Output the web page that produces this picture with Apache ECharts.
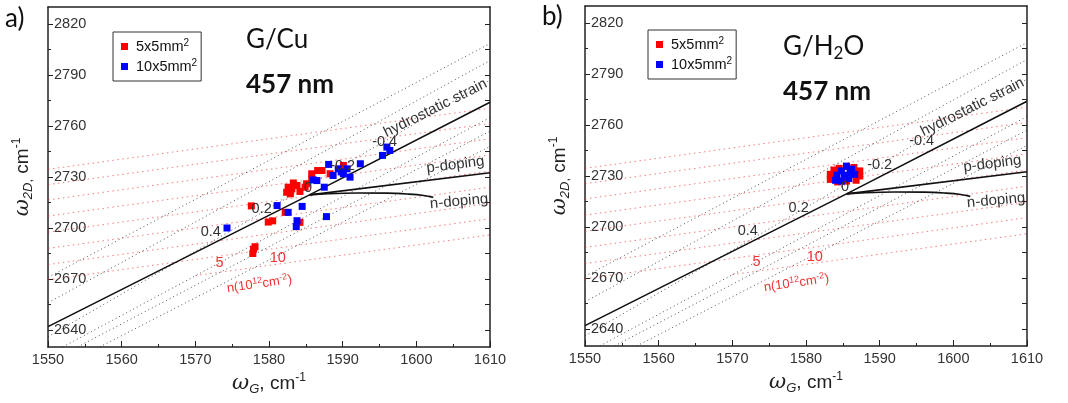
<!DOCTYPE html>
<html><head><meta charset="utf-8">
<script src="https://cdn.jsdelivr.net/npm/echarts@6/dist/echarts.min.js"></script>
<style>html,body{margin:0;padding:0;background:#fff}#c{width:1068px;height:403px}</style>
</head><body><div id="c"></div>
<script>
// ---------- data ----------
const xRange = [1550, 1610];
const yRange = [2630, 2830];
const yMajorTicks = [2640, 2670, 2700, 2730, 2760, 2790, 2820];
const yMinorTicks = [2655, 2685, 2715, 2745, 2775, 2805];
const yRightTicks = [2640, 2655, 2670, 2685, 2700, 2715, 2730, 2745, 2760, 2775, 2790, 2805, 2820];

const strainLine = [[1550, 2642], [1585.5, 2719.5], [1610, 2774]];
const pDopingLine = [[1585.5, 2719.5], [1610, 2732.5]];
const nDopingLine = [[1585.5, 2719.5], [1588, 2720.2], [1592, 2720.6], [1596, 2720.5], [1599, 2719.9], [1601, 2719.1], [1602.3, 2718]];

// black dotted iso-lines: [start, end]
const blackDotted = [
  [[1550, 2671], [1610, 2808.5]],
  [[1550, 2656], [1610, 2798.5]],
  [[1550, 2636], [1610, 2787]],
  [[1552, 2630], [1610, 2765]],
  [[1554, 2630], [1610, 2757]],
  [[1557, 2630], [1610, 2748]]
];
// red dotted iso-lines: [start, end]
const redDotted = [
  [[1550, 2734.5], [1610, 2770.5]],
  [[1550, 2725.5], [1610, 2761.5]],
  [[1550, 2716.5], [1610, 2752.5]],
  [[1550, 2707], [1610, 2743]],
  [[1550, 2697.5], [1610, 2733.5]],
  [[1550, 2688], [1610, 2724]],
  [[1550, 2678.5], [1610, 2714.5]],
  [[1550, 2669.5], [1610, 2705.5]],
  [[1570, 2672], [1610, 2696]]
];

// G/Cu
const cuSmall = [[1577.6,2713],[1577.9,2687.5],[1577.8,2685],[1578.1,2689],[1579.9,2703.5],[1580.5,2704.2],[1582.2,2709.2],
  [1582.4,2721],[1582.6,2724],[1583.1,2723],[1583.8,2725],[1584.2,2721.5],[1585.1,2726],[1585.8,2728.9],[1585.8,2731.9],
  [1587.2,2733.8],[1588.3,2731.9],[1590.1,2736.8],[1584.2,2703.3],[1582.9,2720.1],[1583.3,2726.5],[1584.9,2724],[1586.6,2733.8]];
const cuLarge = [[1574.3,2700],[1581.1,2713.2],[1582.6,2709.2],[1584.5,2712.7],[1583.8,2704.3],[1583.7,2700.8],[1587.8,2706.7],
  [1586.0,2728.3],[1586.5,2727.9],[1587.5,2724],[1588.1,2737.4],[1588.7,2730.9],[1589.4,2734.8],[1590.1,2731.9],[1590.6,2734.8],
  [1591,2729.9],[1592.4,2737.8],[1595.4,2742.7],[1596,2747.6],[1596.4,2745.6],[1589.8,2733]];
// G/H2O
const h2oSmall = [[1583.3,2728],[1583.3,2731],[1583.8,2733.5],[1584.5,2734.5],[1585.5,2735.5],[1586.5,2735],[1587.3,2733],
  [1587.3,2730],[1586.8,2727.5],[1585.5,2727],[1584.3,2726.5],[1583.8,2729]];
const h2oLarge = [[1584,2727.5],[1584.2,2730.5],[1584.8,2733],[1585.5,2735.8],[1586.2,2734],[1586.6,2731],[1585.8,2728.5],
  [1584.8,2727],[1585.2,2730.5],[1586,2732]];

const seriesNames = ['5x5mm', '10x5mm'];
const strainMarks = [['0.4', 1572.1, 2697.6], ['0.2', 1579, 2711.4], ['0', 1585.3, 2723.7], ['-0.2', 1590, 2736.5], ['-0.4', 1595.7, 2750.3]];
const dopingMarks = [['5', 1573.3, 2679.4], ['10', 1581.2, 2682.4]];

// ---------- chart ----------
const chart = echarts.init(document.getElementById('c'), null, {renderer: 'canvas'});
const grids = [
  {left: 48, top: 7, width: 442, height: 340, containLabel: false, outerBoundsMode: 'none'},
  {left: 585, top: 6, width: 442, height: 340, containLabel: false, outerBoundsMode: 'none'}
];
const AX = '#222';
const LBL = '#333';
const tickFont = '"Liberation Sans", Arial, sans-serif';
const numFmt = v => String(Math.round(v));

const nameRich = {
  w: {fontSize: 21, fontStyle: 'italic', fontFamily: '"DejaVu Serif", serif', color: '#222', lineHeight: 24, verticalAlign: 'middle'},
  s: {fontSize: 13, fontStyle: 'italic', fontFamily: tickFont, color: '#222', lineHeight: 8, verticalAlign: 'bottom'},
  c: {fontSize: 13, fontFamily: tickFont, color: '#222', lineHeight: 8, verticalAlign: 'bottom'},
  t: {fontSize: 19, fontFamily: tickFont, color: '#222', lineHeight: 24, verticalAlign: 'middle'},
  p: {fontSize: 12, fontFamily: tickFont, color: '#222', lineHeight: 8, verticalAlign: 'top'}
};

const xAxes = [], yAxes = [], series = [];
grids.forEach((g, gi) => {
  xAxes.push({
    gridIndex: gi, type: 'value', min: xRange[0], max: xRange[1], interval: 10, position: 'bottom',
    axisLine: {show: true, onZero: false, lineStyle: {color: AX, width: 1.5}},
    axisTick: {show: true, inside: true, length: 6, lineStyle: {color: AX, width: 1}},
    minorTick: {show: true, splitNumber: 2, length: 3, lineStyle: {color: AX}},
    axisLabel: {show: true, margin: 5, fontSize: 14.5, color: LBL, fontFamily: tickFont, formatter: numFmt},
    splitLine: {show: false},
    name: '{w|ω}{s|G}{t|, cm}{p|-1}', nameLocation: 'middle', nameGap: 24,
    nameTextStyle: {rich: nameRich, verticalAlign: 'top'}
  });
  xAxes.push({
    gridIndex: gi, type: 'value', min: xRange[0], max: xRange[1], interval: 10, position: 'top',
    axisLine: {show: true, onZero: false, lineStyle: {color: AX, width: 1.5}},
    axisTick: {show: false}, axisLabel: {show: false}, splitLine: {show: false}
  });
  yAxes.push({
    gridIndex: gi, type: 'value', min: yRange[0], max: yRange[1], position: 'left',
    axisLine: {show: true, onZero: false, lineStyle: {color: AX, width: 1.5}},
    axisTick: {show: true, inside: true, length: 5, customValues: yMajorTicks, lineStyle: {color: AX}},
    axisLabel: {show: true, inside: true, margin: 6, fontSize: 14.5, color: LBL, fontFamily: tickFont, customValues: yMajorTicks, formatter: numFmt},
    splitLine: {show: false},
    name: '{w|ω}{s|2D}{c|,}{t| cm}{p|-1}', nameLocation: 'middle', nameGap: 13,
    nameTextStyle: {rich: nameRich}
  });
  yAxes.push({
    gridIndex: gi, type: 'value', min: yRange[0], max: yRange[1], position: 'left',
    axisLine: {show: false},
    axisTick: {show: true, inside: true, length: 3, customValues: yMinorTicks, lineStyle: {color: AX}},
    axisLabel: {show: false}, splitLine: {show: false}
  });
  yAxes.push({
    gridIndex: gi, type: 'value', min: yRange[0], max: yRange[1], position: 'right',
    axisLine: {show: true, onZero: false, lineStyle: {color: AX, width: 1.5}},
    axisTick: {show: true, inside: true, length: 5, customValues: yRightTicks, lineStyle: {color: AX}},
    axisLabel: {show: false}, splitLine: {show: false}
  });

  const xi = gi * 2, yi = gi * 3;
  redDotted.forEach(seg => series.push({
    type: 'line', xAxisIndex: xi, yAxisIndex: yi, data: seg, symbol: 'none', silent: true, z: 1,
    lineStyle: {color: 'rgba(235,40,40,0.6)', width: 1, type: [1.5, 3.5]}
  }));
  blackDotted.forEach(seg => series.push({
    type: 'line', xAxisIndex: xi, yAxisIndex: yi, data: seg, symbol: 'none', silent: true, z: 1,
    lineStyle: {color: 'rgba(40,40,40,0.8)', width: 1, type: [1, 3]}
  }));
  [strainLine, pDopingLine, nDopingLine].forEach((ln, k) => series.push({
    type: 'line', xAxisIndex: xi, yAxisIndex: yi, data: ln, symbol: 'none', silent: true, z: 2,
    smooth: k === 2 ? 0.4 : false,
    lineStyle: {color: '#111', width: 1.6}
  }));
  const pts = gi === 0 ? [cuSmall, cuLarge] : [h2oSmall, h2oLarge];
  pts.forEach((d, k) => series.push({
    type: 'scatter', name: seriesNames[k], xAxisIndex: xi, yAxisIndex: yi, data: d, z: 3,
    symbol: 'rect', symbolSize: 7, itemStyle: {color: k === 0 ? '#ff0000' : '#0000ff', opacity: 1}
  }));
});

const legendCommon = {
  orient: 'vertical', icon: 'rect', itemWidth: 7, itemHeight: 7, itemGap: 4,
  borderColor: '#333', borderWidth: 1, padding: [6, 4, 7, 8], backgroundColor: '#fff',
  selectedMode: false,
  formatter: n => '{m|' + n + '}{p|2}',
  textStyle: {fontSize: 14.5, fontFamily: tickFont, color: '#111', padding: [0, 0, 0, 3],
    rich: {m: {fontSize: 14.5, fontFamily: tickFont, color: '#111', lineHeight: 17, verticalAlign: 'middle'},
           p: {fontSize: 10, fontFamily: tickFont, color: '#111', lineHeight: 6, verticalAlign: 'top'}}},
  data: seriesNames
};

chart.setOption({
  animation: false,
  grid: grids,
  xAxis: xAxes,
  yAxis: yAxes,
  series: series,
  legend: [
    Object.assign({left: 113, top: 32}, legendCommon),
    Object.assign({left: 648, top: 30}, legendCommon)
  ]
});

// ---------- annotations (placed in data coordinates) ----------
const gfx = [];
const titleFont = 'Lato, "Open Sans", sans-serif';
function pos(gi, x, y) { return chart.convertToPixel({gridIndex: gi}, [x, y]); }
function txt(gi, x, y, text, size, color, rot, extra) {
  const p = pos(gi, x, y);
  gfx.push({type: 'text', x: p[0], y: p[1], rotation: (rot || 0) * Math.PI / 180, z: 10, silent: true,
    style: Object.assign({text: text, fill: color, font: size + 'px ' + tickFont, align: 'center', verticalAlign: 'middle'}, extra || {})});
}
[0, 1].forEach(gi => {
  txt(gi, 1602.6, 2770.5, 'hydrostatic strain', 15, '#333', 26.5);
  txt(gi, 1605.3, 2737.2, 'p-doping', 15, '#333', 7);
  txt(gi, 1605.8, 2715.6, 'n-doping', 15, '#333', 5);
  strainMarks.forEach(m => txt(gi, m[1], m[2], m[0], 14.5, '#333', 0));
  dopingMarks.forEach(m => txt(gi, m[1], m[2], m[0], 14.5, '#e33', 0));
  txt(gi, 1578.7, 2667, '{a|n(10}{s|12}{a|cm}{s|-2}{a|)}', 12, '#e33', 8, {
    rich: {a: {fontSize: 13, fill: '#e33', fontFamily: tickFont, lineHeight: 16, verticalAlign: 'middle'},
           s: {fontSize: 9, fill: '#e33', fontFamily: tickFont, lineHeight: 6, verticalAlign: 'top'}}
  });
});
// panel titles
gfx.push({type: 'text', left: 5, top: 6, z: 10, style: {text: 'a)', font: '26px ' + titleFont, fill: '#111'}});
gfx.push({type: 'text', left: 542, top: 4, z: 10, style: {text: 'b)', font: '26px ' + titleFont, fill: '#111'}});
gfx.push({type: 'text', left: 246, top: 27, z: 10, style: {text: 'G/Cu', font: '26px ' + titleFont, fill: '#111'}});
gfx.push({type: 'text', left: 246, top: 72, z: 10, style: {text: '457 nm', font: 'bold 26px ' + titleFont, fill: '#111'}});
gfx.push({type: 'text', left: 783, top: 34, z: 10, style: {text: '{a|G/H}{s|2}{a|O}',
  rich: {a: {fontSize: 26, fontFamily: titleFont, fill: '#111', lineHeight: 30, verticalAlign: 'middle'},
         s: {fontSize: 17, fontFamily: titleFont, fill: '#111', lineHeight: 10, verticalAlign: 'bottom'}}}});
gfx.push({type: 'text', left: 783, top: 79, z: 10, style: {text: '457 nm', font: 'bold 26px ' + titleFont, fill: '#111'}});

chart.setOption({graphic: gfx});
</script>
</body></html>
